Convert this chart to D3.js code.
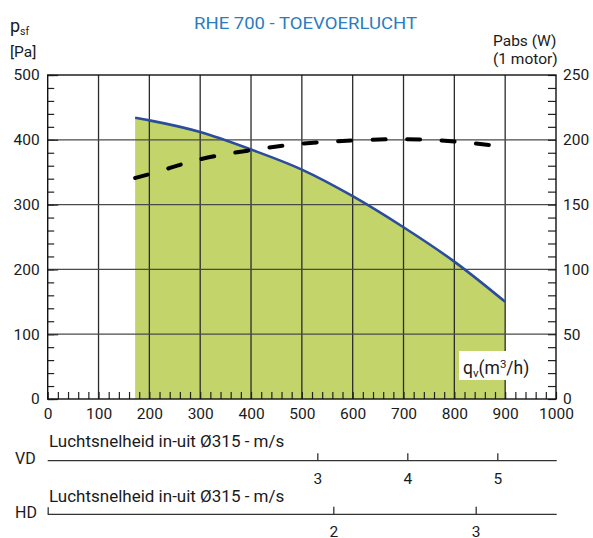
<!DOCTYPE html>
<html><head><meta charset="utf-8">
<script src="https://cdn.jsdelivr.net/npm/d3@7"></script>
<style>body{margin:0;background:#fff}svg{display:block}text{font-family:Roboto,"DejaVu Sans",sans-serif;fill:#1a1a1a}</style>
</head><body>
<script>
// ---- data ----
const flowPressure = [172, 200, 300, 400, 500, 600, 700, 800, 900];
const pressure     = [434, 430, 412, 385, 354, 313, 265, 212, 150];
const flowPower    = [172, 200, 300, 400, 500, 600, 700, 800, 880];
const power        = [170.5, 173.5, 185, 192, 197, 199.5, 200.5, 198.7, 195.5];
const xTicks  = [0,100,200,300,400,500,600,700,800,900,1000];
const yTicks  = [0,100,200,300,400,500];
const yRTicks = [0,50,100,150,200,250];
const vdTicks = [3,4,5];
const hdTicks = [2,3];
const title = "RHE 700 - TOEVOERLUCHT";
const velLabel = "Luchtsnelheid in-uit Ø315 - m/s";

const W = 593, H = 538;
const svg = d3.select("body").append("svg").attr("width", W).attr("height", H);

const x  = d3.scaleLinear().domain([0,1000]).range([47.7,556]);
const y  = d3.scaleLinear().domain([0,500]).range([399,75]);
const yR = d3.scaleLinear().domain([0,250]).range([399,75]);
const vd = d3.scaleLinear().domain([0,5.7]).range([47.3, 47.3+90*5.7]);
const hd = d3.scaleLinear().domain([0,3.56]).range([48.5, 48.5+142.4*3.56]);

const pData = flowPressure.map((f,i)=>({f, p: pressure[i]}));
const wData = flowPower.map((f,i)=>({f, w: power[i]}));
const curve = d3.curveMonotoneX;
svg.append("path").datum(pData)
  .attr("d", d3.area().x(d=>x(d.f)).y0(y(0)).y1(d=>y(d.p)).curve(curve))
  .attr("fill", "#c3d46a");

// gridlines
const grid = svg.append("g");
grid.selectAll("line.v").data(xTicks.slice(1,-1)).join("line")
  .attr("x1", d=>x(d)).attr("x2", d=>x(d)).attr("y1", y(500)).attr("y2", y(0))
  .attr("stroke", "#2b2b2b").attr("stroke-width", 1.3);
grid.selectAll("line.h").data(yTicks.slice(1,-1)).join("line")
  .attr("x1", x(0)).attr("x2", x(1000)).attr("y1", d=>y(d)).attr("y2", d=>y(d))
  .attr("stroke", "#4a4a4a").attr("stroke-width", 1.3);

// minor ticks via axes
const minorX = d3.range(0, 1001, 20);
const minorY = d3.range(0, 501, 20);
const minorYR = d3.range(0, 251, 10);
svg.append("g").attr("transform", `translate(0,${y(0)})`)
  .call(d3.axisTop(x).tickValues(minorX).tickSize(7).tickFormat(""))
  .call(g=>g.select(".domain").remove())
  .call(g=>g.selectAll("line").attr("stroke","#222").attr("stroke-width",1.2));
svg.append("g").attr("transform", `translate(${x(0)},0)`)
  .call(d3.axisRight(y).tickValues(minorY).tickSize(6.5).tickFormat(""))
  .call(g=>g.select(".domain").remove())
  .call(g=>g.selectAll("line").attr("stroke","#222").attr("stroke-width",1.2));
svg.append("g").attr("transform", `translate(${x(0)},0)`)
  .call(d3.axisRight(y).tickValues(yTicks).tickSize(10.5).tickFormat(""))
  .call(g=>g.select(".domain").remove())
  .call(g=>g.selectAll("line").attr("stroke","#333").attr("stroke-width",1.3));
svg.append("g").attr("transform", `translate(${x(1000)},0)`)
  .call(d3.axisLeft(yR).tickValues(minorYR).tickSize(8).tickFormat(""))
  .call(g=>g.select(".domain").remove())
  .call(g=>g.selectAll("line").attr("stroke","#222").attr("stroke-width",1.2));

// frame
svg.append("rect").attr("x", x(0)).attr("y", y(500))
  .attr("width", x(1000)-x(0)).attr("height", y(0)-y(500))
  .attr("fill", "none").attr("stroke", "#111").attr("stroke-width", 1.4);

// axis labels
const lab = (g)=>{g.select(".domain").remove(); g.selectAll("line").remove();
  g.selectAll("text").style("font-size","15.5px").attr("fill","#1a1a1a");};
svg.append("g").attr("transform", `translate(0,${y(0)})`)
  .call(d3.axisBottom(x).tickValues(xTicks).tickSize(0).tickPadding(8.5).tickFormat(d3.format("d")))
  .call(lab);
svg.append("g").attr("transform", `translate(${x(0)},0)`)
  .call(d3.axisLeft(y).tickValues(yTicks).tickSize(0).tickPadding(8).tickFormat(d3.format("d")))
  .call(lab);
svg.append("g").attr("transform", `translate(${x(1000)},0)`)
  .call(d3.axisRight(yR).tickValues(yRTicks).tickSize(0).tickPadding(7).tickFormat(d3.format("d")))
  .call(lab);

// pressure line
svg.append("path").datum(pData)
  .attr("d", d3.line().x(d=>x(d.f)).y(d=>y(d.p)).curve(curve))
  .attr("fill","none").attr("stroke","#2c4c9c").attr("stroke-width",2.6);

// power dashed line
svg.append("path").datum(wData)
  .attr("d", d3.line().x(d=>x(d.f)).y(d=>yR(d.w)).curve(curve))
  .attr("fill","none").attr("stroke","#000").attr("stroke-width",4)
  .attr("stroke-linecap","round").attr("stroke-dasharray","13,21.5");

// qv label with white box
svg.append("rect").attr("x",459).attr("y",351).attr("width",82).attr("height",29).attr("fill","#fff");
const qv = svg.append("text").attr("x",463).attr("y",374).style("font-size","17.5px");
qv.append("tspan").text("q");
qv.append("tspan").attr("dy",3).style("font-size","11.5px").text("v");
qv.append("tspan").attr("dy",-3).text("(m");
qv.append("tspan").attr("dy",-6).style("font-size","11.5px").text("3");
qv.append("tspan").attr("dy",6).text("/h)");

// title
svg.append("text").attr("x",305.5).attr("y",29).attr("text-anchor","middle")
  .style("font-size","16.5px").style("fill","#2a7dc0").attr("textLength",223).attr("lengthAdjust","spacingAndGlyphs")
  .text(title);

// left unit
const ps = svg.append("text").attr("x",10).attr("y",31.5).style("font-size","18px");
ps.append("tspan").text("p");
ps.append("tspan").attr("dy",3).style("font-size","10.5px").text("sf");
svg.append("text").attr("x",10).attr("y",56.5).style("font-size","15.5px").text("[Pa]");
// right unit
svg.append("text").attr("x",493).attr("y",46).style("font-size","15.5px").text("Pabs (W)");
svg.append("text").attr("x",493).attr("y",63.5).style("font-size","15.5px").text("(1 motor)");

// velocity scales
function velAxis(scale, ticks, lineY, name, labelY, nameY, startTick){
  svg.append("text").attr("x",49).attr("y",labelY).style("font-size","17px").text(velLabel);
  svg.append("text").attr("x",15).attr("y",nameY).style("font-size","16px").text(name);
  svg.append("line").attr("x1",47.7).attr("x2",556.7).attr("y1",lineY).attr("y2",lineY)
    .attr("stroke","#333").attr("stroke-width",1.3);
  if(startTick) svg.append("line").attr("x1",48.2).attr("x2",48.2).attr("y1",lineY-7).attr("y2",lineY)
    .attr("stroke","#333").attr("stroke-width",1.3);
  svg.append("g").attr("transform",`translate(0,${lineY})`)
    .call(d3.axisTop(scale).tickValues(ticks).tickSize(7.5).tickFormat(""))
    .call(g=>g.select(".domain").remove())
    .call(g=>g.selectAll("line").attr("stroke","#333").attr("stroke-width",1.3));
  svg.append("g").attr("transform",`translate(0,${lineY})`)
    .call(d3.axisBottom(scale).tickValues(ticks).tickSize(0).tickPadding(12).tickFormat(d3.format("d")))
    .call(lab);
}
velAxis(vd, vdTicks, 460.7, "VD", 447.3, 463.5, false);
velAxis(hd, hdTicks, 514.3, "HD", 501.7, 518, true);
</script>
</body></html>
